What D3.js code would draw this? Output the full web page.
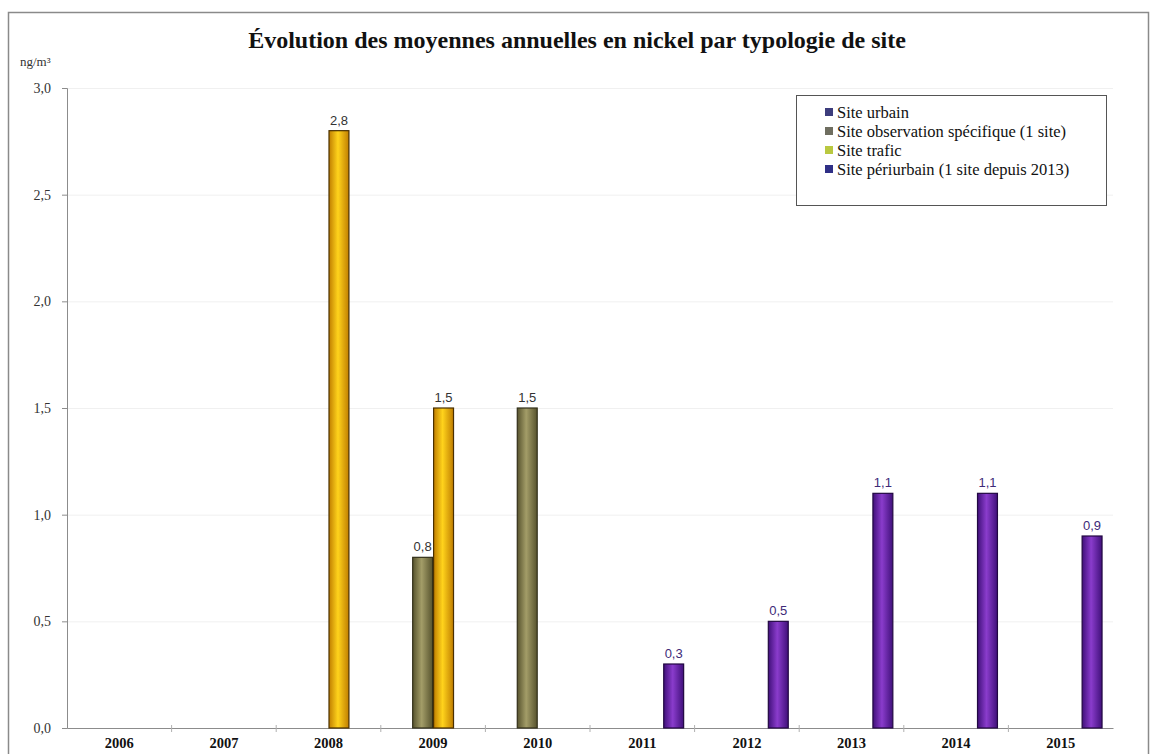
<!DOCTYPE html>
<html>
<head>
<meta charset="utf-8">
<script src="https://cdn.jsdelivr.net/npm/d3@7"></script>
<style>
  body { margin: 0; background: #fff; }
  svg { display: block; }
</style>
</head>
<body>
<div id="chart"></div>
<script>
// the data
var years = ["2006", "2007", "2008", "2009", "2010", "2011", "2012", "2013", "2014", "2015"];
var seriesNames = ["Site urbain", "Site observation spécifique (1 site)", "Site trafic", "Site périurbain (1 site depuis 2013)"];
var urbain      = [null, null, null, null, null, null, null, null, null, null];
var observation = [null, null, null, 0.8, 1.5, null, null, null, null, null];
var trafic      = [null, null, 2.8, 1.5, null, null, null, null, null, null];
var periurbain  = [null, null, null, null, null, 0.3, 0.5, 1.1, 1.1, 0.9];
var yTicks = [0, 0.5, 1, 1.5, 2, 2.5, 3];

// colours (bar gradients: edge, centre) and legend swatches
var barEdge   = ["#2a2a66", "#57532e", "#c07e00", "#40107a"];
var barCentre = ["#4a4aa0", "#a39d68", "#ffd31c", "#8a3ccc"];
var barStroke = ["#1a1a40", "#33301a", "#4a3000", "#220842"];
var legendColours = ["#3d3d7c", "#6f6e60", "#b9c840", "#2f2f86"];
var labelColours = ["#333333", "#333333", "#333333", "#3e2a78"];

var width = 1151, height = 754;
var margin = {top: 88, right: 38, bottom: 26, left: 67};

var svg = d3.select("#chart")
  .append("svg")
    .attr("width", width)
    .attr("height", height);

// outer frame
svg.append("rect")
    .attr("x", 8.5).attr("y", 12.5)
    .attr("width", 1140).attr("height", 760)
    .style("fill", "none")
    .style("stroke", "#8a8a8a")
    .style("stroke-width", 1.5);

// scales
var x0 = d3.scaleBand()
    .domain(years)
    .range([margin.left, width - margin.right])
    .paddingInner(0.2)
    .paddingOuter(0.1);

var x1 = d3.scaleBand()
    .domain(d3.range(seriesNames.length))
    .range([0, x0.bandwidth()]);

var y = d3.scaleLinear()
    .domain([0, 3])
    .range([height - margin.bottom, margin.top]);

// gradients, one per series
var defs = svg.append("defs");
seriesNames.forEach(function(s, i) {
  var g = defs.append("linearGradient")
      .attr("id", "grad" + i)
      .attr("x1", "0%").attr("x2", "100%")
      .attr("y1", "0%").attr("y2", "0%");
  g.append("stop").attr("offset", "0%").attr("stop-color", barEdge[i]);
  g.append("stop").attr("offset", "45%").attr("stop-color", barCentre[i]);
  g.append("stop").attr("offset", "100%").attr("stop-color", barEdge[i]);
});

// faint gridlines
svg.append("g")
  .selectAll("line")
    .data(yTicks.slice(1))
  .enter().append("line")
    .attr("x1", margin.left).attr("x2", width - margin.right)
    .attr("y1", function(d) { return y(d) + 0.5; })
    .attr("y2", function(d) { return y(d) + 0.5; })
    .style("stroke", "#f0f0f0");

// y axis
var yAxis = svg.append("g")
    .attr("transform", "translate(" + margin.left + ",0)")
    .call(d3.axisLeft(y)
      .tickValues(yTicks)
      .tickSize(5)
      .tickFormat(function(d) { return d3.format(".1f")(d).replace(".", ","); }));
yAxis.select(".domain").style("stroke", "#8c8c8c");
yAxis.selectAll(".tick line").style("stroke", "#8c8c8c");
yAxis.selectAll(".tick text")
    .attr("x", -16)
    .style("font-family", "'Liberation Serif', 'Times New Roman', serif")
    .style("font-size", "14px")
    .style("fill", "#333");

// x axis
var xAxis = svg.append("g")
    .attr("transform", "translate(0," + y(0) + ")")
    .call(d3.axisBottom(x0).tickSize(0).tickSizeOuter(0));
xAxis.select(".domain").style("stroke", "#8c8c8c");
xAxis.selectAll(".tick text")
    .attr("y", 0)
    .attr("dy", 0)
    .attr("transform", "translate(0,20)")
    .style("font-family", "'Liberation Serif', 'Times New Roman', serif")
    .style("font-weight", "bold")
    .style("font-size", "14.5px")
    .style("fill", "#111");

// small ticks between categories
svg.append("g")
  .selectAll("line")
    .data(years.slice(1))
  .enter().append("line")
    .attr("x1", function(d) { return x0(d) - x0.step() * x0.paddingInner() / 2; })
    .attr("x2", function(d) { return x0(d) - x0.step() * x0.paddingInner() / 2; })
    .attr("y1", y(0) - 3).attr("y2", y(0) + 4)
    .style("stroke", "#b0b0b0");

// bars
var allSeries = [urbain, observation, trafic, periurbain];
var barData = [];
allSeries.forEach(function(vals, i) {
  vals.forEach(function(v, j) {
    if (v != null) barData.push({year: years[j], series: i, value: v});
  });
});

svg.append("g")
  .selectAll("rect")
    .data(barData)
  .enter().append("rect")
    .attr("x", function(d) { return x0(d.year) + x1(d.series) + 0.5; })
    .attr("y", function(d) { return y(d.value); })
    .attr("width", x1.bandwidth() - 1)
    .attr("height", function(d) { return y(0) - y(d.value); })
    .style("fill", function(d) { return "url(#grad" + d.series + ")"; })
    .style("stroke", function(d) { return barStroke[d.series]; })
    .style("stroke-width", 1.2);

// value labels
svg.append("g")
  .selectAll("text")
    .data(barData)
  .enter().append("text")
    .attr("x", function(d) { return x0(d.year) + x1(d.series) + x1.bandwidth() / 2; })
    .attr("y", function(d) { return y(d.value) - 6; })
    .attr("text-anchor", "middle")
    .style("font-family", "'Liberation Sans', Arial, sans-serif")
    .style("font-size", "13px")
    .style("fill", function(d) { return labelColours[d.series]; })
    .text(function(d) { return d3.format(".1f")(d.value).replace(".", ","); });

// unit label
svg.append("text")
    .attr("x", 20).attr("y", 66)
    .style("font-family", "'Liberation Serif', 'Times New Roman', serif")
    .style("font-size", "13px")
    .style("fill", "#333")
    .text("ng/m³");

// title
svg.append("text")
    .attr("x", 577).attr("y", 48)
    .attr("text-anchor", "middle")
    .style("font-family", "'Liberation Serif', 'Times New Roman', serif")
    .style("font-weight", "bold")
    .style("font-size", "24px")
    .style("fill", "#111")
    .text("Évolution des moyennes annuelles en nickel par typologie de site");

// legend
var legend = svg.append("g");
legend.append("rect")
    .attr("x", 796.5).attr("y", 95.5)
    .attr("width", 310).attr("height", 110)
    .style("fill", "#fff")
    .style("stroke", "#555")
    .style("stroke-width", 1);

var items = legend.selectAll(".item")
    .data(seriesNames)
  .enter().append("g")
    .attr("class", "item")
    .attr("transform", function(d, i) { return "translate(825," + (112 + i * 19) + ")"; });

items.append("rect")
    .attr("x", 0).attr("y", -4)
    .attr("width", 8).attr("height", 8)
    .style("fill", function(d, i) { return legendColours[i]; });

items.append("text")
    .attr("x", 12).attr("dy", "0.35em")
    .style("font-family", "'Liberation Serif', 'Times New Roman', serif")
    .style("font-size", "16.5px")
    .style("fill", "#111")
    .text(function(d) { return d; });
</script>
</body>
</html>
